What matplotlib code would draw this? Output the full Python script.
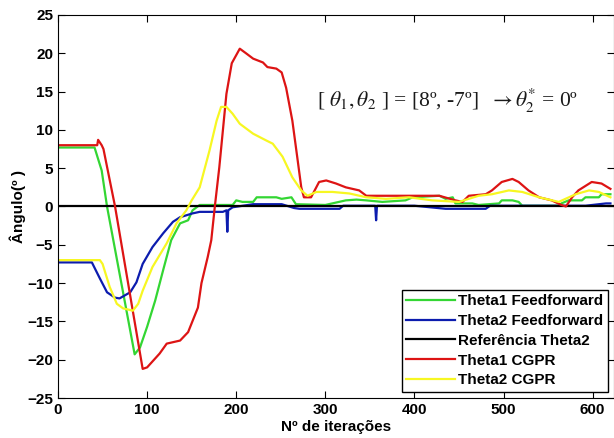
import matplotlib.pyplot as plt

# breakpoints (iteration, angle in degrees)
t1_ff_x = [0, 41, 49, 55, 86, 92, 100, 109, 118, 127, 137, 146, 151, 159, 196, 200, 207, 219, 223,
           245, 251, 262, 267, 300, 323, 335, 346, 364, 390, 398, 428, 435, 443, 446, 465, 472, 495,
           498, 510, 517, 521, 562, 565, 573, 588, 592, 607, 610, 620]
t1_ff_y = [7.7, 7.7, 4.7, 0, -19.3, -18.4, -15.7, -12.3, -8.3, -4.4, -2.2, -1.8, -0.5, 0.2, 0.2, 0.8,
           0.6, 0.6, 1.2, 1.2, 1.0, 1.2, 0.3, 0.2, 0.8, 0.9, 0.8, 0.6, 0.8, 1.2, 1.4, 1.0, 1.2, 0.4,
           0.4, 0.2, 0.4, 0.8, 0.8, 0.6, 0.1, 0.1, 0.4, 0.8, 0.8, 1.2, 1.2, 1.6, 1.6]

t2_ff_x = [0, 38, 47, 55, 64, 69, 75, 81, 88, 95, 106, 118, 129, 137, 151, 159, 185, 189, 190, 191,
           196, 219, 251, 265, 271, 316, 320, 356, 357, 358, 400, 435, 480, 485, 592, 615, 620]
t2_ff_y = [-7.3, -7.3, -9.4, -11.2, -11.9, -12.0, -11.6, -11.2, -9.9, -7.5, -5.3, -3.5, -2.0, -1.4,
           -0.9, -0.7, -0.7, -0.5, -3.3, -0.5, -0.1, 0.3, 0.3, -0.2, -0.3, -0.3, 0.1, 0.1, -1.8, 0.1,
           0.1, -0.3, -0.3, 0.1, 0.1, 0.4, 0.4]

ref_x = [0, 625]
ref_y = [0, 0]

t1_cgpr_x = [0, 44, 45, 49, 51, 64, 95, 100, 114, 122, 137, 146, 157, 161, 168, 172, 176, 181, 189,
             195, 204, 211, 219, 230, 235, 245, 251, 256, 263, 269, 273, 276, 284, 293, 301, 312, 323,
             338, 346, 383, 428, 446, 454, 461, 480, 487, 498, 510, 517, 528, 540, 554, 565, 570, 577,
             584, 599, 610, 620]
t1_cgpr_y = [8.0, 8.0, 8.7, 8.0, 7.5, 0, -21.2, -21.0, -19.2, -17.9, -17.5, -16.4, -13.2, -10, -6.6,
             -4.4, 0, 5.1, 14.7, 18.7, 20.6, 20.0, 19.3, 18.8, 18.2, 18.0, 17.5, 15.5, 11.2, 6.0, 2.5,
             1.2, 1.2, 3.2, 3.4, 3.0, 2.5, 2.1, 1.4, 1.4, 1.4, 0.8, 0.6, 1.4, 1.6, 2.1, 3.2, 3.6, 3.2,
             2.1, 1.2, 0.8, 0.2, 0, 1.2, 2.1, 3.2, 3.0, 2.3]

t2_cgpr_x = [0, 47, 50, 58, 66, 73, 84, 90, 95, 106, 122, 133, 144, 150, 159, 170, 178, 183, 189,
             196, 204, 219, 234, 241, 252, 263, 273, 280, 290, 308, 327, 346, 368, 394, 420, 450, 472,
             487, 506, 521, 540, 562, 581, 596, 607, 620]
t2_cgpr_y = [-7.0, -7.0, -7.5, -10.5, -12.7, -13.3, -13.6, -12.7, -11, -7.9, -4.8, -2.2, -0.5, 0.8,
             2.5, 7.3, 11.2, 13.0, 13.0, 12.1, 10.8, 9.5, 8.6, 8.2, 6.5, 3.8, 2.1, 1.4, 1.9, 1.9, 1.7,
             1.2, 1.0, 1.2, 0.8, 0.6, 1.4, 1.6, 2.1, 1.9, 1.2, 0.6, 1.6, 2.1, 1.9, 1.2]

plt.rcParams['font.family'] = ['Liberation Sans', 'DejaVu Sans']
plt.rcParams['mathtext.fontset'] = 'stix'

fig = plt.figure(figsize=(6.14, 4.38), dpi=100)
ax = fig.add_axes([0.0945, 0.0913, 0.9055, 0.8745])

lw = 1.6
ax.plot(t1_ff_x, t1_ff_y, color='#33d633', lw=lw, label='Theta1 Feedforward')
ax.plot(t2_ff_x, t2_ff_y, color='#0c1cae', lw=lw, label='Theta2 Feedforward')
ax.plot(ref_x, ref_y, color='black', lw=lw, label='Referência Theta2')
ax.plot(t1_cgpr_x, t1_cgpr_y, color='#dd1414', lw=lw, label='Theta1 CGPR')
ax.plot(t2_cgpr_x, t2_cgpr_y, color='#f7f722', lw=lw, label='Theta2 CGPR')

ax.set_xlim(0, 624)
ax.set_ylim(-25, 25)
ax.set_xticks(range(0, 601, 100))
ax.set_yticks(range(-25, 26, 5))
ax.tick_params(direction='in', top=True, right=True, length=5, labelsize=11)
for lab in ax.get_xticklabels() + ax.get_yticklabels():
    lab.set_fontweight('bold')

ax.set_xlabel('Nº de iterações', fontsize=11, fontweight='bold', labelpad=2)
ax.set_ylabel('Ângulo(º )', fontsize=11, fontweight='bold', labelpad=1)

ax.text(291, 13.8, r'[ $\theta_1, \theta_2$ ] = [8º, -7º]  $\rightarrow \theta_2^{*}$ = 0º',
        fontsize=15.5, family='Liberation Serif', va='center', ha='left', color='#1a1a1a')

leg = ax.legend(loc='lower right', prop={'weight': 'bold', 'size': 11},
                fancybox=False, edgecolor='black', framealpha=1, borderaxespad=0.4,
                handlelength=3.2, handletextpad=0.2, labelspacing=0.38, borderpad=0.3)
leg.get_frame().set_linewidth(1.0)

fig.savefig('out.png', dpi=100)
